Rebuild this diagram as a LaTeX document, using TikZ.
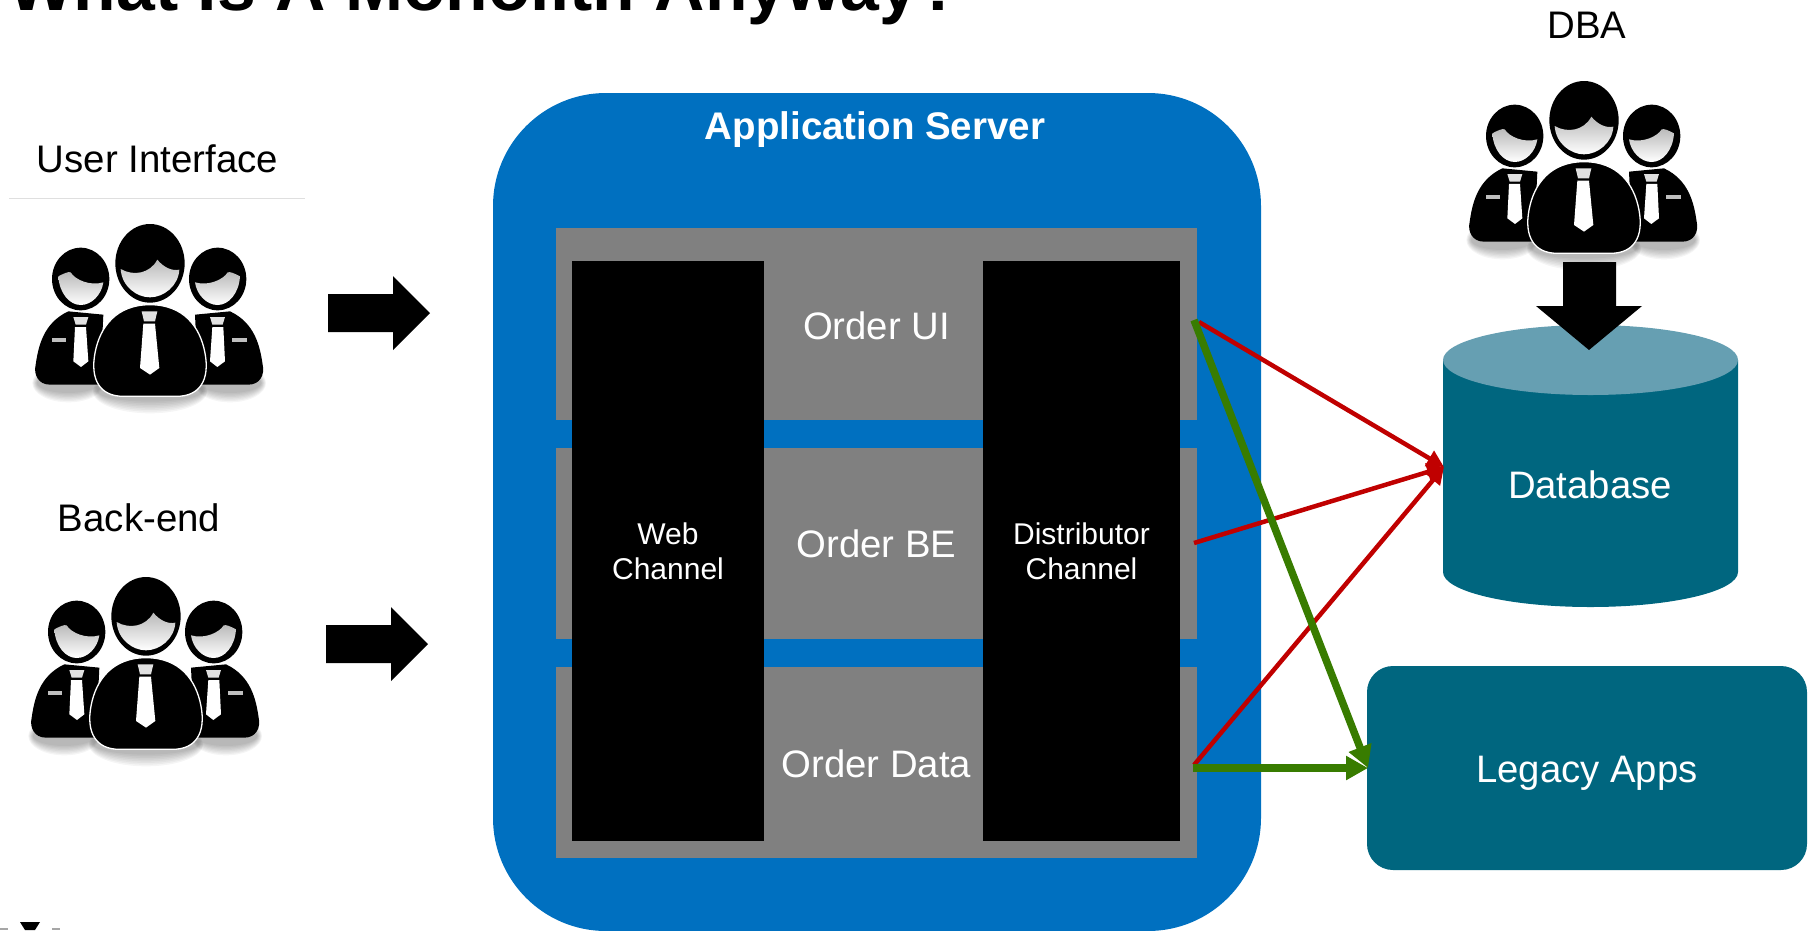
\documentclass[tikz,border=0pt]{standalone}
\usepackage{fontspec}
\setmainfont{Liberation Sans}
\usetikzlibrary{arrows.meta}
\definecolor{srvblue}{HTML}{0070C0}
\definecolor{rowgray}{HTML}{808080}
\definecolor{teal1}{HTML}{00667F}
\definecolor{teal2}{HTML}{669FB2}
\definecolor{redline}{HTML}{C00000}
\definecolor{greenline}{HTML}{387C00}
\newcommand{\sidepersonicon}{%
  \fill[black] (205,575) -- (310,585) -- (300,795) -- (150,795) .. controls (115,795) and (100,765) .. (107,735) .. controls (115,680) and (130,610) .. (205,575) -- cycle;
  \fill[black] (242,478) ellipse [x radius=86, y radius=94];
  \fill[top color=gray!55, bottom color=white] (175,470) .. controls (190,462) and (205,455) .. (212,458) .. controls (225,480) and (270,500) .. (310,488) .. controls (305,525) and (275,556) .. (242,556) .. controls (208,556) and (178,520) .. (175,470) -- cycle;
  \fill[white!88!black] (220,592) -- (265,592) -- (258,615) -- (227,615) -- cycle;
  \fill[white] (225,622) -- (258,622) -- (265,725) -- (243,742) -- (220,725) -- cycle;
  \fill[white!75!black] (155,656) rectangle (198,668);
}
\tikzset{
  pics/people/.style={code={
    \begin{scope}[x=0.3333pt,y=-0.3333pt,shift={(-450,-430)}]
      \foreach \k in {0,...,7}{
        \fill[black,opacity=0.04] (450,815) ellipse [x radius={172-2*\k}, y radius={66-5*\k}];
        \fill[black,opacity=0.04] (205,790) ellipse [x radius={108-2*\k}, y radius={58-4*\k}];
        \fill[black,opacity=0.04] (690,790) ellipse [x radius={108-2*\k}, y radius={58-4*\k}];
      }
      \sidepersonicon
      \begin{scope}[shift={(895,0)},xscale=-1]\sidepersonicon\end{scope}
      \filldraw[black,draw=white,line width=1.3pt] (450,555) .. controls (350,555) and (300,620) .. (285,700) .. controls (270,780) and (300,830) .. (370,830) -- (530,830) .. controls (600,830) and (630,780) .. (615,700) .. controls (600,620) and (550,555) .. (450,555) -- cycle;
      \fill[black] (450,431) ellipse [x radius=104, y radius=118];
      \fill[top color=gray!55, bottom color=white] (362,448) .. controls (400,470) and (450,462) .. (472,420) .. controls (490,442) and (515,455) .. (538,450) .. controls (535,500) and (490,533) .. (450,533) .. controls (410,533) and (365,500) .. (362,448) -- cycle;
      \fill[white!88!black] (425,575) -- (472,575) -- (465,605) -- (432,605) -- cycle;
      \fill[white] (430,612) -- (465,612) -- (478,745) -- (450,765) -- (420,745) -- cycle;
    \end{scope}
  }},
  lbl/.style={inner sep=0pt,outer sep=0pt,font=\fontsize{38.4}{44}\selectfont,text=black},
  rowbox/.style={fill=rowgray,minimum width=641pt,inner sep=0pt,outer sep=0pt},
  chanbox/.style={fill=black,inner sep=0pt,outer sep=0pt,minimum height=580pt,text=white,align=center,font=\fontsize{30}{35}\selectfont},
  whitetxt/.style={inner sep=0pt,text=white,font=\fontsize{38.3}{44}\selectfont},
  redarrow/.style={draw=redline,line width=4.5pt,-{Triangle[length=17pt,width=17pt,fill=redline]}},
  greenarrow/.style={draw=greenline,line width=7.5pt,-{Triangle[length=22pt,width=23pt,fill=greenline]}},
}
\begin{document}
\begin{tikzpicture}[x=1pt,y=-1pt]
\useasboundingbox (0,0) rectangle (1813,930);
\clip (0,0) rectangle (1813,930);
% title
\node[anchor=base west,inner sep=0pt,font=\fontsize{69.7}{80}\selectfont\bfseries] (title) at (8,10) {What Is A Monolith Anyway?};
% bottom-left fragment
\fill[black] (20,922) -- (40,922) -- (35,930) -- (25,930) -- cycle;
\fill[gray!70] (0,928) rectangle (8,930);
\fill[gray!70] (52,928) rectangle (60,930);
% left column
\node[lbl,anchor=base] (ui) at (157.5,172) {User Interface};
\draw[gray!25,line width=0.8pt] (9,198) -- (305,198);
\pic at (150,263) {people};
\fill[black] (328,294) -- (393,294) -- (393,276) -- (430,313) -- (393,350) -- (393,332) -- (328,332) -- cycle;
\node[lbl,anchor=base] (be) at (139,531) {Back-end};
\pic at (146,616) {people};
\fill[black] (326,625) -- (391,625) -- (391,607) -- (428,644) -- (391,681) -- (391,663) -- (326,663) -- cycle;
% application server
\node[fill=srvblue,rounded corners=113pt,minimum width=768pt,minimum height=838pt,inner sep=0pt,outer sep=0pt] (server) at (877,512) {};
\node[anchor=base,inner sep=0pt,text=white,font=\fontsize{38.5}{44}\selectfont\bfseries] (srvlabel) at (875,139) {Application Server};
\node[rowbox,minimum height=192pt] (orderui) at (876.5,324) {};
\node[rowbox,minimum height=191pt] (orderbe) at (876.5,543.5) {};
\node[rowbox,minimum height=191pt] (orderdata) at (876.5,762.5) {};
\node[chanbox,minimum width=192pt] (web) at (668,551) {Web\\Channel};
\node[chanbox,minimum width=197pt] (dist) at (1081.5,551) {Distributor\\Channel};
\node[whitetxt] (t1) at (876.5,326) {Order UI};
\node[whitetxt] (t2) at (876.5,544) {Order BE};
\node[whitetxt] (t3) at (876.5,764) {Order Data};
% DBA and database
\node[lbl,anchor=base] (dba) at (1587,38) {DBA};
\fill[teal1] (1443,360) -- (1443,572) arc [start angle=180,end angle=360,x radius=147.5,y radius=-35] -- (1738,360) -- cycle;
\fill[teal2] (1590.5,360) ellipse [x radius=147.5, y radius=35];
\node[whitetxt] (database) at (1590,485) {Database};
\pic at (1584,120) {people};
\fill[black] (1563,262) -- (1616,262) -- (1616,306) -- (1642,306) -- (1589,350) -- (1536,306) -- (1563,306) -- cycle;
\node[fill=teal1,rounded corners=26pt,minimum width=440pt,minimum height=204pt,inner sep=0pt,outer sep=0pt] (legacy) at (1587,768) {};
\node[whitetxt] (legacytxt) at (1587,773) {Legacy Apps};
% connector ends
\coordinate (uiR) at (1199,322);
\coordinate (beR) at (1194,543);
\coordinate (dataR) at (1194,765);
\coordinate (dbIn) at (1444,467);
\coordinate (uiG) at (1194,320);
\coordinate (dataG) at (1193,768);
\coordinate (legIn) at (1368,768);
\draw[redarrow] (uiR) -- (dbIn);
\draw[redarrow] (beR) -- (dbIn);
\draw[redarrow] (dataR) -- (dbIn);
\draw[greenarrow] (uiG) -- (legIn);
\draw[greenarrow] (dataG) -- (legIn);
\end{tikzpicture}
\end{document}
